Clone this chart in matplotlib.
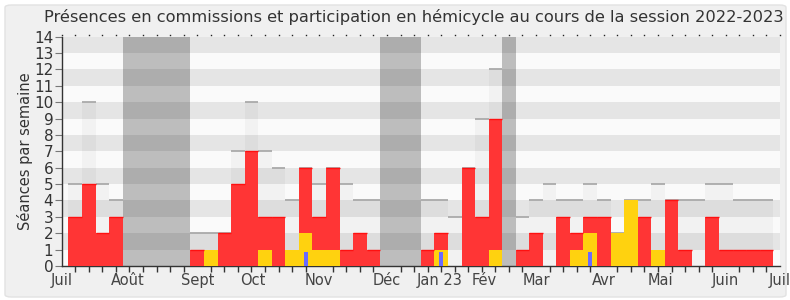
import matplotlib
matplotlib.use("Agg")
import matplotlib.pyplot as plt
from matplotlib.patches import FancyBboxPatch
import numpy as np

# ---- data (one entry per week, weeks 1..52) ----
weeks = list(range(1, 53))
commission = [3, 5, 2, 3, 0, 0, 0, 0, 0, 1,
              0, 2, 5, 7, 2, 3, 0, 4, 2, 5,
              1, 2, 1, 0, 0, 0, 1, 1, 0, 6,
              3, 8, 0, 1, 2, 0, 3, 1, 1, 3,
              0, 0, 3, 0, 4, 1, 0, 3, 1, 1,
              1, 1]
hemicycle = [0, 0, 0, 0, 0, 0, 0, 0, 0, 0,
             1, 0, 0, 0, 1, 0, 1, 2, 1, 1,
             0, 0, 0, 0, 0, 0, 0, 1, 0, 0,
             0, 1, 0, 0, 0, 0, 0, 1, 2, 0,
             2, 4, 0, 1, 0, 0, 0, 0, 0, 0,
             0, 0]
questions = [0, 0, 0, 0, 0, 0, 0, 0, 0, 0,
             0, 0, 0, 0, 0, 0, 0, 0.87, 0, 0,
             0, 0, 0, 0, 0, 0, 0, 0.87, 0, 0,
             0, 0, 0, 0, 0, 0, 0, 0, 0.87, 0,
             0, 0, 0, 0, 0, 0, 0, 0, 0, 0,
             0, 0]
seances_max = [5, 10, 5, 4, 0, 0, 0, 0, 0, 2,
               2, 2, 7, 10, 7, 6, 4, 6, 5, 6,
               5, 4, 4, 0, 0, 0, 4, 4, 3, 6,
               9, 12, 0, 3, 4, 5, 4, 4, 5, 4,
               2, 4, 4, 5, 4, 4, 4, 5, 5, 4,
               4, 4]
vacances = [5, 6, 7, 8, 9, 24, 25, 26, 33]
month_labels = ["Juil", "Août", "Sept", "Oct", "Nov", "Déc", "Jan 23",
                "Fév", "Mar", "Avr", "Mai", "Juin", "Juil"]
month_pos = [0, 4.9, 10, 14.1, 19, 24, 27.9, 31.2, 35, 40, 44.2, 49, 53]
title = "Présences en commissions et participation en hémicycle au cours de la session 2022-2023"

W, H = 790, 300
fig = plt.figure(figsize=(W / 100, H / 100), dpi=100)
fig.patch.set_facecolor("white")
bg = FancyBboxPatch((5 / W, 3 / H), 781 / W, 292 / H,
                    boxstyle="round,pad=0,rounding_size=0.008",
                    transform=fig.transFigure, facecolor="#f0f0f0",
                    edgecolor="#e2e2e2", linewidth=1.0, zorder=-10)
fig.patches.append(bg)

ax = fig.add_axes([61.7 / W, 1 - 266 / H, (780 - 61.7) / W, (266 - 36.7) / H])
ax.set_xlim(0, 53)
ax.set_ylim(0, 14)
ax.set_facecolor("#fafafa")

# stripes
for k in range(0, 14):
    if k % 2 == 1:
        ax.axhspan(k, k + 1, color="#e5e5e5", lw=0, zorder=0)

x = np.array(weeks)
com = np.array(commission)
hem = np.array(hemicycle)
tot = com + hem
mx = np.array(seances_max)

# max overlay
ax.bar(x, mx, width=1.0, color="black", alpha=0.03, lw=0, zorder=1)
has = mx > 0
ax.hlines(mx[has], x[has] - 0.5, x[has] + 0.5, color="#aaaaaa", lw=1.3, zorder=1.5)

# vacances
for v in vacances:
    ax.axvspan(v - 0.5, v + 0.5, color="black", alpha=0.245, lw=0, zorder=2)

# stacked bars
ax.bar(x, hem, width=1.0, color="#ffd20f", lw=0, zorder=3)
ax.bar(x, com, bottom=hem, width=1.0, color="#ff3535", lw=0, zorder=3)
hc = com > 0
ax.hlines(tot[hc], x[hc] - 0.5, x[hc] + 0.5, color="#ff1010", lw=1.0, zorder=3.5)
ax.bar(x, questions, width=0.3, color="#6a6aff", lw=0, zorder=4)

# axes styling
for s in ["top", "right"]:
    ax.spines[s].set_visible(False)
ax.spines["left"].set_color("#333333")
ax.spines["bottom"].set_color("#333333")
ax.spines["left"].set_linewidth(1.0)
ax.spines["bottom"].set_linewidth(1.0)

ax.set_yticks(range(0, 15))
ax.tick_params(axis="y", length=5, color="#777777", labelsize=11,
               labelcolor="#333333", pad=1)
ax.set_xticks(month_pos)
ax.set_xticklabels(month_labels)
ax.tick_params(axis="x", which="major", length=0, labelsize=10.5,
               labelcolor="#444444", pad=5)
ax.set_xticks(np.arange(0, 54), minor=True)
ax.tick_params(axis="x", which="minor", length=4, color="#333333", width=1,
               top=False, bottom=True)
ax.set_ylabel("Séances par semaine", fontsize=10.5, color="#333333", labelpad=1)

# top dotted ticks
ax.plot(np.arange(0, 54), [14.12] * 54, ls="none", marker="s", ms=1.0,
        mew=0, color="#222222", clip_on=False, zorder=5)

fig.text(414 / W, 1 - 17 / H, title, ha="center", va="center",
         fontsize=11.7, color="#333333")

fig.savefig("out.png", dpi=100, facecolor=fig.get_facecolor())
